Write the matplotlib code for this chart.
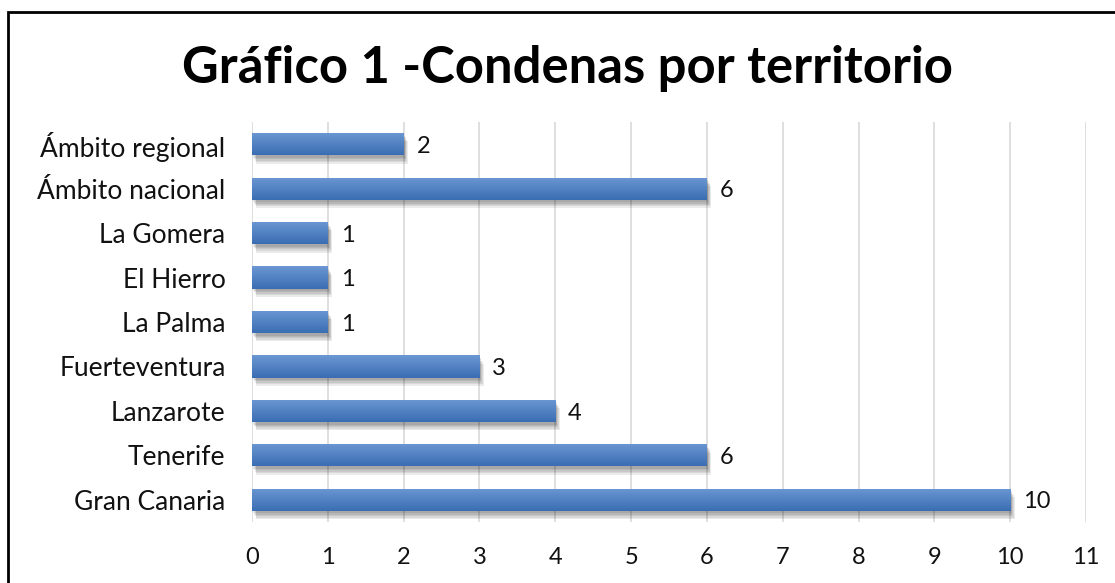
import matplotlib
matplotlib.use("Agg")
import matplotlib.pyplot as plt
import matplotlib.patheffects as pe
from matplotlib.patches import Rectangle
from matplotlib.colors import LinearSegmentedColormap
import numpy as np

categories = ["Gran Canaria", "Tenerife", "Lanzarote", "Fuerteventura", "La Palma",
              "El Hierro", "La Gomera", "Ámbito nacional", "Ámbito regional"]
values = [10, 6, 4, 3, 1, 1, 1, 6, 2]
xticks = list(range(0, 12))
title = "Gráfico 1 -Condenas por territorio"

plt.rcParams['font.family'] = ['Lato', 'DejaVu Sans']

fig = plt.figure(figsize=(11.15, 5.83), dpi=100)
ax = fig.add_axes([252/1115, 1-522/583, (1086-252)/1115, 400/583])

y = np.arange(len(categories))
shadow = [pe.SimplePatchShadow(offset=(o * 0.8, -o * 1.5), shadow_rgbFace="#000000", alpha=0.08)
          for o in (4.0, 3.2, 2.5, 1.8, 1.2)]
bars = ax.barh(y, values, height=0.5, color="#4f81bd", zorder=3,
               path_effects=shadow + [pe.Normal()])

grad = np.linspace(0, 1, 64).reshape(-1, 1)
cmap = LinearSegmentedColormap.from_list("g", ["#6b98d3", "#3b6db3"])
for b in bars:
    x0, y0, w, h = b.get_x(), b.get_y(), b.get_width(), b.get_height()
    im = ax.imshow(grad, cmap=cmap, extent=(x0, x0 + w, y0, y0 + h), aspect="auto", zorder=4,
                   interpolation="bicubic")
    im.set_clip_path(b)

ax.set_xlim(0, 11)
ax.set_ylim(-0.5, len(categories) - 0.5)
ax.set_xticks(xticks)
ax.set_xticklabels([str(t) for t in xticks], fontsize=17)
ax.set_yticks(y)
ax.set_yticklabels(categories, fontsize=19)
ax.tick_params(axis="both", length=0, colors="#111111")
ax.tick_params(axis="x", pad=18)
ax.tick_params(axis="y", pad=19)
for s in ax.spines.values():
    s.set_visible(False)
ax.grid(axis="x", color="#d9d9d9", linewidth=1.2, zorder=0)
ax.set_axisbelow(True)

for yi, v in zip(y, values):
    ax.text(v + 0.17, yi - 0.05, str(v), va="center", ha="left", fontsize=17, color="#111111")

fig.text(568/1115, 1-68/583, title, ha="center", va="center", fontsize=36.5, fontweight="bold")

fig.patches.append(Rectangle((8/1115, -0.1), 1.2, 1 - 12/583 + 0.1, transform=fig.transFigure,
                             fill=False, edgecolor="black", linewidth=2))

fig.savefig("out.png", dpi=100)
